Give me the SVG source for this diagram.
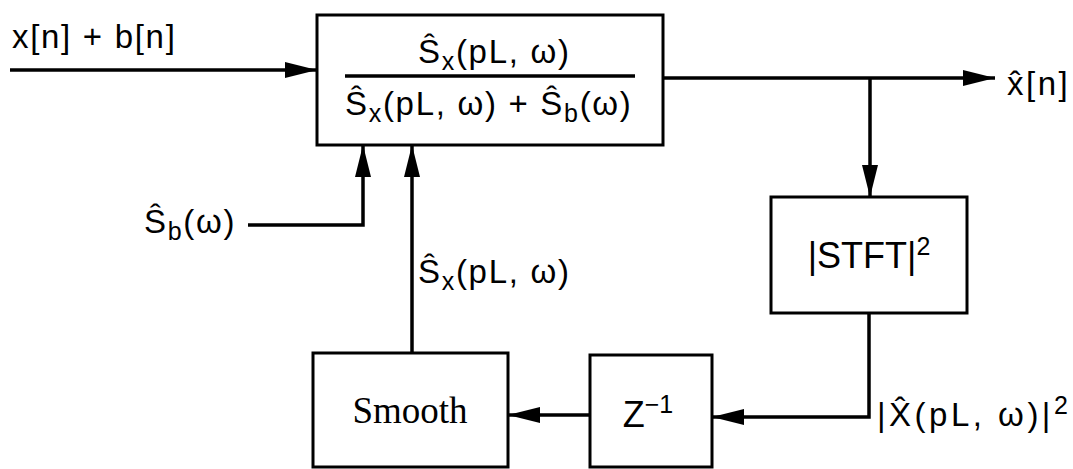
<svg xmlns="http://www.w3.org/2000/svg" width="1073" height="469" viewBox="0 0 1073 469">
<style>
.box{fill:#fff;stroke:#000;stroke-width:3}
.ln{fill:none;stroke:#000;stroke-width:3.5}
.t{font-family:"Liberation Sans",Arial,sans-serif;font-size:33px;letter-spacing:1.7px;fill:#000}
.b{font-family:"Liberation Sans",Arial,sans-serif;font-size:36px;fill:#000}
.s{font-family:"Liberation Serif","Times New Roman",serif;font-size:37px;fill:#000}
.sb{font-size:25px}
</style>
<defs>
<marker id="ah" markerUnits="userSpaceOnUse" viewBox="0 0 32 16" refX="32" refY="8" markerWidth="32" markerHeight="16" orient="auto">
<path d="M0,0 L32,8 L0,16 Z" fill="#000"/>
</marker>
</defs>
<g id="connectors">
<path class="ln" d="M10 70 H317" marker-end="url(#ah)"/>
<path class="ln" d="M663 78 H995" marker-end="url(#ah)"/>
<path class="ln" d="M870 78 V197" marker-end="url(#ah)"/>
<path class="ln" d="M869 313 V417 H712" marker-end="url(#ah)"/>
<path class="ln" d="M590 415 H508" marker-end="url(#ah)"/>
<path class="ln" d="M412 353 V145" marker-end="url(#ah)"/>
<path class="ln" d="M248 225 H363 V145" marker-end="url(#ah)"/>
</g>
<g id="labels">
<text class="t" x="1007" y="95" style="letter-spacing:2.5px">x&#770;[n]</text>
<text class="t" x="12" y="48">x[n] + b[n]</text>
<text class="t" x="144" y="233">Ŝ<tspan class="sb" dy="7">b</tspan><tspan dy="-7">(ω)</tspan></text>
<text class="t" x="418" y="283">Ŝ<tspan class="sb" dy="7">x</tspan><tspan dy="-7">(pL, ω)</tspan></text>
<text class="t" x="877" y="426" style="letter-spacing:3.5px">|X&#770;(pL, ω)|<tspan class="sb" dy="-12">2</tspan></text>
</g>
<g id="main">
<rect class="box" x="317" y="15" width="346" height="130"/>
<line class="ln" x1="345" y1="76" x2="635" y2="76" stroke-width="2.5"/>
<text class="t" x="418" y="63">Ŝ<tspan class="sb" dy="7">x</tspan><tspan dy="-7">(pL, ω)</tspan></text>
<text class="t" x="345" y="115">Ŝ<tspan class="sb" dy="7">x</tspan><tspan dy="-7">(pL, ω) + Ŝ</tspan><tspan class="sb" dy="7">b</tspan><tspan dy="-7">(ω)</tspan></text>
</g>
<g id="stft">
<rect class="box" x="771" y="197" width="196" height="116"/>
<text class="b" x="869" y="268" text-anchor="middle">|STFT|<tspan class="sb" dy="-13">2</tspan></text>
</g>
<g id="delay">
<rect class="box" x="590" y="355" width="122" height="112"/>
<text class="b" x="648" y="427" text-anchor="middle">Z<tspan class="sb" dy="-14">−1</tspan></text>
</g>
<g id="smooth">
<rect class="box" x="313" y="353" width="195" height="114"/>
<text class="s" x="410" y="423" text-anchor="middle">Smooth</text>
</g>
</svg>
